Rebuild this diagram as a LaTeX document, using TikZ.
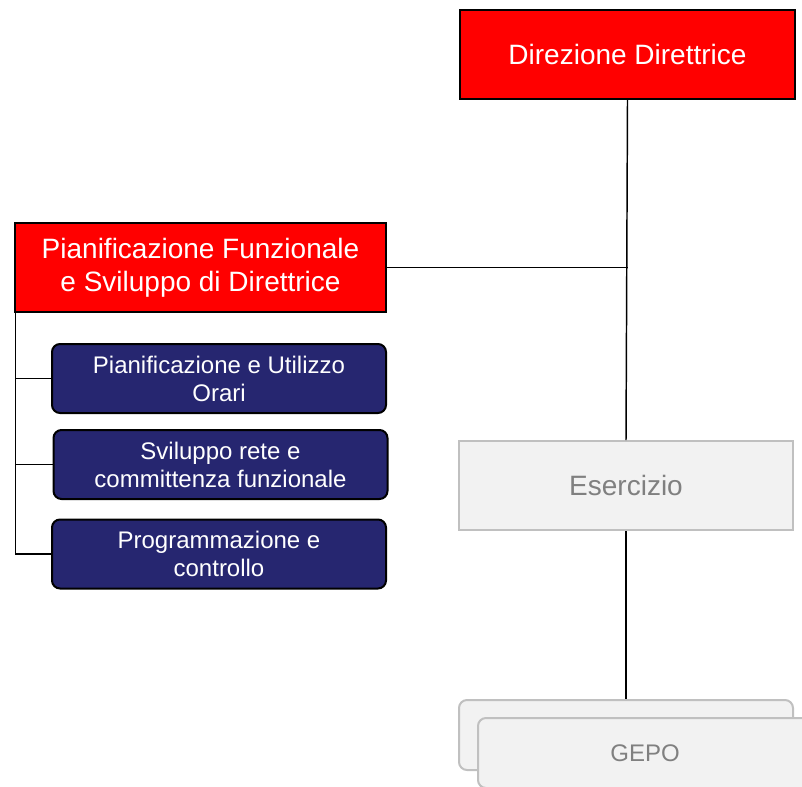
\documentclass[tikz,border=0pt]{standalone}
\usepackage{fontspec}
\setmainfont{Liberation Sans}
\definecolor{fsred}{RGB}{255,0,0}
\definecolor{fsblue}{RGB}{38,38,112}
\definecolor{fsgrey}{RGB}{242,242,242}
\definecolor{fsedge}{RGB}{192,192,192}
\definecolor{fstext}{RGB}{128,128,128}

\begin{document}
\begin{tikzpicture}[x=0.75pt, y=-0.75pt,
	every node/.style={inner sep=1pt, align=center},
	redbox/.style={rectangle, draw=black, line width=1.5pt, fill=fsred, text=white,
		font=\fontsize{21}{24.75}\selectfont, minimum height=89*0.75pt},
	bluebox/.style={rectangle, rounded corners=6pt, draw=black, line width=1.5pt, fill=fsblue, text=white,
		font=\fontsize{18}{21}\selectfont, minimum width=334*0.75pt, minimum height=69*0.75pt},
	greybox/.style={rectangle, draw=fsedge, line width=1.5pt, fill=fsgrey, text=fstext,
		minimum width=334*0.75pt},
	link/.style={line width=1.1pt}]
	\useasboundingbox (0,0) rectangle (802,786);
	\clip (0,0) rectangle (802,786);
			\node[redbox, minimum width=335*0.75pt] (dir) at (627.5,54.5) {Direzione Direttrice};
			\node[redbox, minimum width=371*0.75pt] (pfs) at (200.5,267.5) {Pianificazione Funzionale\\e Sviluppo di Direttrice};
			\node[bluebox] (puo) at (219,378.5) {Pianificazione e Utilizzo\\Orari};
			\node[bluebox] (src) at (220.5,464.5) {Sviluppo rete e\\committenza funzionale};
			\node[bluebox] (prc) at (219,554) {Programmazione e\\controllo};
			\node[greybox, minimum height=89*0.75pt, font=\fontsize{21}{24}\selectfont] (ese) at (626,485.5) {Esercizio};
			\node[greybox, rounded corners=6pt, minimum height=70*0.75pt] (gpb) at (626,735) {};
			\node[greybox, rounded corners=6pt, minimum height=70*0.75pt, font=\fontsize{18}{21}\selectfont] (gpf) at (645,753) {GEPO};
			
			\foreach \from/\to in {dir.south/ese.north,ese.south/gpb.north}
			\draw[link] (\from) -- (\to);
			\draw[link] (pfs.east) -- (pfs.east -| dir.south);
			\draw[link] ([xshift=1pt]pfs.south west) |- (prc.west);
			\foreach \to in {puo,src}
			\draw[link] ([xshift=1pt]pfs.south west |- \to.west) -- (\to.west);
			\end{tikzpicture}
\end{document}
